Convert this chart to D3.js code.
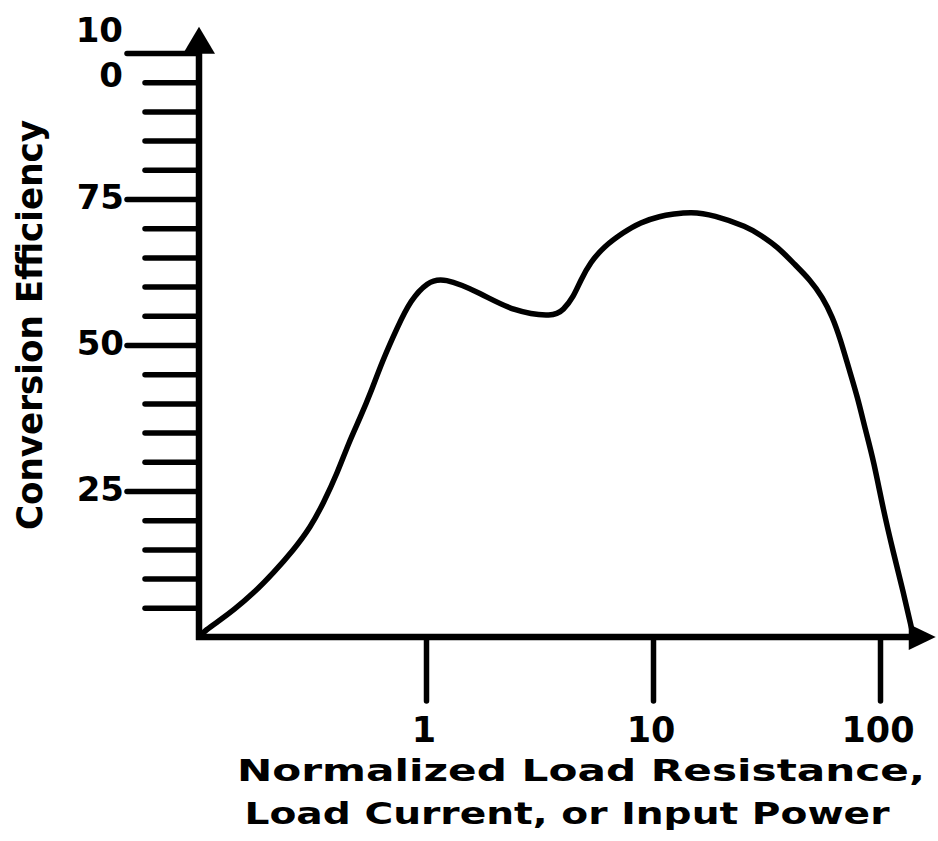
<!DOCTYPE html>
<html>
<head>
<meta charset="utf-8">
<script src="https://cdn.jsdelivr.net/npm/d3@7"></script>
<style>
  html, body { margin: 0; padding: 0; background: #fff; }
  svg { display: block; }
  text { font-family: "DejaVu Sans", "Liberation Sans", Arial, sans-serif; font-weight: bold; fill: #000; }
</style>
</head>
<body>
<div id="chart"></div>
<script>
// ---- data ----
const loadValues = [0.1, 0.107, 0.124, 0.142, 0.174, 0.213, 0.261, 0.310, 0.353, 0.407, 0.456, 0.515, 0.570, 0.643, 0.749, 0.855, 1.015, 1.19, 1.74, 2.43, 3.65, 4.03, 4.46, 4.80, 5.31, 6.06, 7.41, 8.79, 10.8, 12.3, 14.6, 18.5, 26.1, 29.8, 35.4, 41.6, 49.4, 55.8, 61.8, 67.0, 72.6, 79.6, 86.3, 93.6, 103.5, 114.6, 127, 136, 140.6];
const efficiency = [0, 1.2, 2.9, 4.6, 7.5, 11.0, 14.9, 18.8, 22.9, 28.1, 33.2, 37.7, 41.8, 47.3, 53.1, 57.7, 60.8, 61.6, 58.9, 55.7, 54.8, 56.0, 58.2, 61.1, 64.2, 66.8, 69.3, 71.0, 72.1, 72.4, 72.8, 72.3, 70.2, 68.8, 66.8, 64.0, 61.1, 58.2, 54.8, 50.9, 46.2, 41.1, 35.4, 30.3, 21.7, 14.4, 7.5, 2.4, 0];
const xTickValues = [1, 10, 100];
const xTickLabels = ["1", "10", "100"];
const yMinorTicks = [5, 10, 15, 20, 30, 35, 40, 45, 55, 60, 65, 70, 80, 85, 90, 95];
const yMajorTicks = [25, 50, 75, 100];
const yMajorLabels = ["25", "50", "75", "100"];
const yTitle = "Conversion Efficiency";
const xTitleLines = ["Normalized Load Resistance,", "Load Current, or Input Power"];

const W = 938, H = 841;
const svg = d3.select("#chart").append("svg").attr("width", W).attr("height", H);
svg.append("rect").attr("width", W).attr("height", H).attr("fill", "#fff");

const x = d3.scaleLog().domain([0.1, 100]).range([199, 880]);
const y = d3.scaleLinear().domain([0, 100]).range([637, 53]);
const xEnd = 176, yEnd = 104.5;

// minor y ticks
const minorAxis = d3.axisLeft(y).tickValues(yMinorTicks).tickSize(54).tickFormat("");
const gMinor = svg.append("g").attr("transform", `translate(${x(0.1)},0)`).call(minorAxis);
// major y ticks
const majorAxis = d3.axisLeft(y).tickValues(yMajorTicks).tickSize(72).tickFormat("");
const gMajor = svg.append("g").attr("transform", `translate(${x(0.1)},0)`).call(majorAxis);
[gMinor, gMajor].forEach(g => {
  g.select(".domain").remove();
  g.selectAll(".tick line").attr("stroke", "#000").attr("stroke-width", 5.5).attr("stroke-linecap", "round");
});

// x ticks (downward)
const xAxis = d3.axisBottom(x).tickValues(xTickValues).tickSize(64).tickFormat("");
const gx = svg.append("g").attr("transform", `translate(0,${y(0)})`).call(xAxis);
gx.select(".domain").remove();
gx.selectAll(".tick line").attr("stroke", "#000").attr("stroke-width", 5.5).attr("stroke-linecap", "round");

// axes lines
svg.append("line").attr("x1", x(0.1)).attr("x2", x(0.1)).attr("y1", y(0) + 3).attr("y2", y(yEnd) + 20)
  .attr("stroke", "#000").attr("stroke-width", 6.5);
svg.append("line").attr("x1", x(0.1) - 3).attr("x2", x(xEnd) - 20).attr("y1", y(0)).attr("y2", y(0))
  .attr("stroke", "#000").attr("stroke-width", 6.5);
// arrow heads
const ty = y(yEnd), tx = x(0.1);
svg.append("path").attr("d", `M${tx},${ty} L${tx + 16},${ty + 27} L${tx - 16},${ty + 27} Z`).attr("fill", "#000");
const ax = x(xEnd), ay = y(0);
svg.append("path").attr("d", `M${ax},${ay} L${ax - 27},${ay + 13} L${ax - 27},${ay - 13} Z`).attr("fill", "#000");

// y tick labels
yMajorTicks.forEach((v, i) => {
  if (yMajorLabels[i] === "100") {
    svg.append("text").attr("x", 123).attr("y", y(v) - 11).attr("text-anchor", "end")
      .attr("font-size", 34).text("10");
    svg.append("text").attr("x", 123).attr("y", y(v) + 34).attr("text-anchor", "end")
      .attr("font-size", 34).text("0");
  } else {
    svg.append("text").attr("x", 124).attr("y", y(v) + 10).attr("text-anchor", "end")
      .attr("font-size", 34).text(yMajorLabels[i]);
  }
});

// x tick labels
xTickValues.forEach((v, i) => {
  svg.append("text").attr("x", x(v) - 2).attr("y", 742).attr("text-anchor", "middle")
    .attr("font-size", 35).text(xTickLabels[i]);
});

// curve
const line = d3.line().x((d, i) => x(loadValues[i])).y(d => y(d)).curve(d3.curveBasis);
svg.append("path").datum(efficiency).attr("d", line)
  .attr("fill", "none").attr("stroke", "#000").attr("stroke-width", 5.5)
  .attr("stroke-linejoin", "round").attr("stroke-linecap", "round");

// y title
svg.append("text").attr("transform", "translate(42,325) rotate(-90)").attr("text-anchor", "middle")
  .attr("font-size", 35).attr("textLength", 410).attr("lengthAdjust", "spacingAndGlyphs").text(yTitle);

// x title
svg.append("text").attr("x", 581).attr("y", 781).attr("text-anchor", "middle")
  .attr("font-size", 30).attr("textLength", 688).attr("lengthAdjust", "spacingAndGlyphs").text(xTitleLines[0]);
svg.append("text").attr("x", 567).attr("y", 824).attr("text-anchor", "middle")
  .attr("font-size", 30).attr("textLength", 645).attr("lengthAdjust", "spacingAndGlyphs").text(xTitleLines[1]);
</script>
</body>
</html>
